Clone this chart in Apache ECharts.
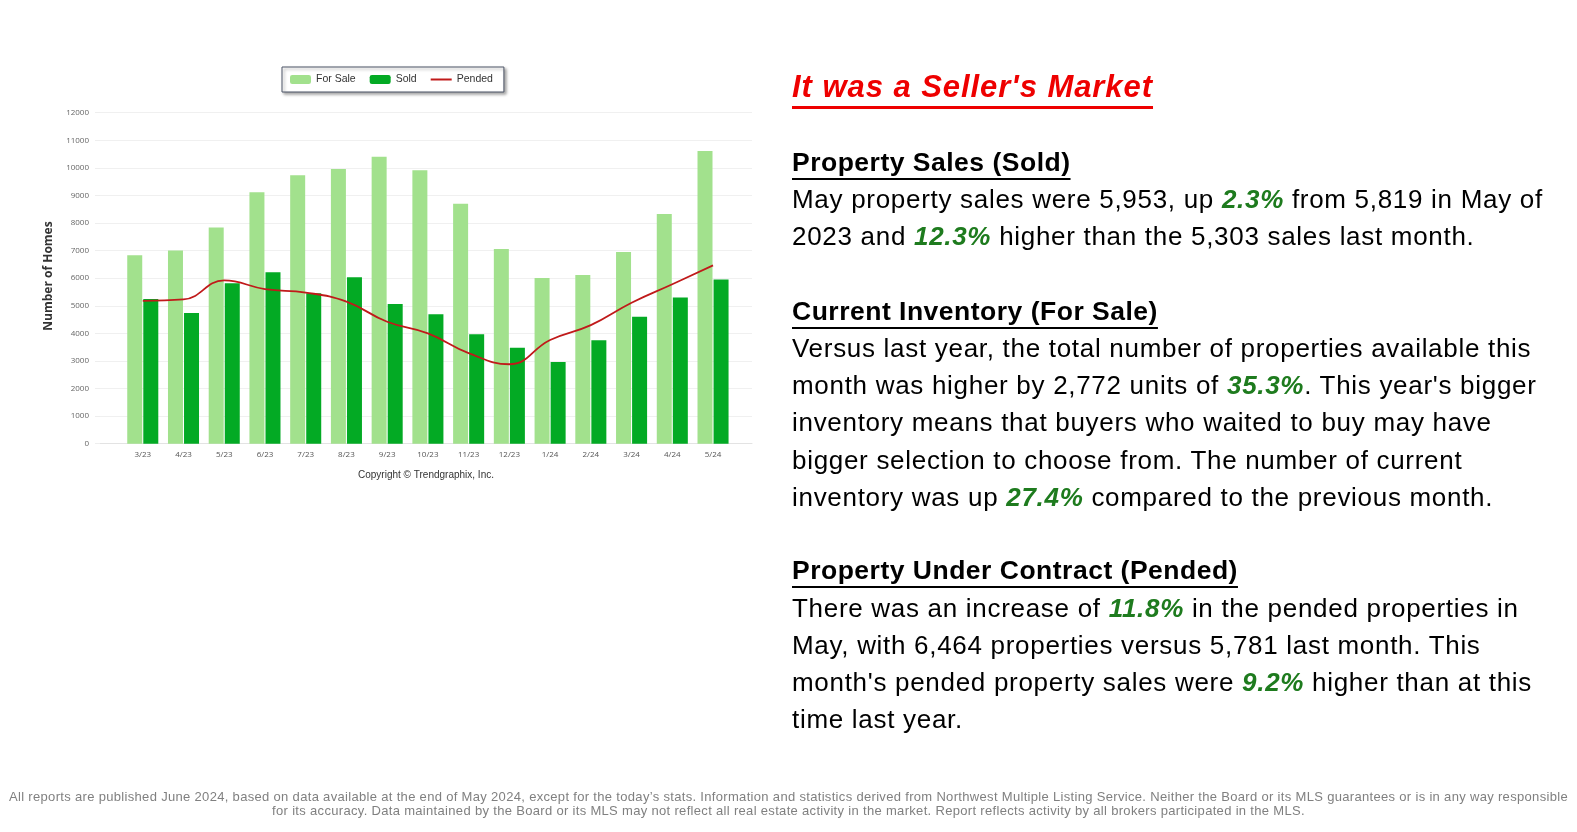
<!DOCTYPE html>
<html>
<head>
<meta charset="utf-8">
<script src="https://cdn.jsdelivr.net/npm/echarts@6/dist/echarts.min.js"></script>
<style>
  html, body { margin:0; padding:0; background:#fff; }
  #wrap { position:relative; width:1577px; height:832px; overflow:hidden; font-family:"Liberation Sans", Arial, sans-serif; }
  #chart { position:absolute; left:0; top:0; width:1577px; height:832px; }
  .txt { position:absolute; left:792px; white-space:nowrap; color:#000; }
  .title { font-size:31px; font-weight:bold; font-style:italic; color:#ee0000; letter-spacing:0.95px; text-decoration:underline; text-decoration-thickness:2.5px; text-underline-offset:9px; line-height:37px; }
  .head { font-size:26.5px; font-weight:bold; letter-spacing:0.5px; text-decoration:underline; text-decoration-thickness:2px; text-underline-offset:7px; line-height:37.2px; }
  .body { font-size:26px; letter-spacing:0.7px; line-height:37.2px; }
  .g { color:#1e7b1e; font-weight:bold; font-style:italic; }
  #foot { position:absolute; left:0; width:1577px; top:790px; text-align:center; font-size:13px; letter-spacing:0.32px; line-height:14px; color:#808080; }
</style>
</head>
<body>
<div id="wrap">
  <div id="chart"></div>
  <div class="txt title" style="top:68px;">It was a Seller's Market</div>
  <div class="txt head" style="top:144px;">Property Sales (Sold)</div>
  <div class="txt body" style="top:180.5px;">May property sales were 5,953, up <span class="g">2.3%</span> from 5,819 in May of<br>2023 and <span class="g">12.3%</span> higher than the 5,303 sales last month.</div>
  <div class="txt head" style="top:293px;">Current Inventory (For Sale)</div>
  <div class="txt body" style="top:330px;">Versus last year, the total number of properties available this<br>month was higher by 2,772 units of <span class="g">35.3%</span>. This year's bigger<br>inventory means that buyers who waited to buy may have<br>bigger selection to choose from. The number of current<br>inventory was up <span class="g">27.4%</span> compared to the previous month.</div>
  <div class="txt head" style="top:552px;">Property Under Contract (Pended)</div>
  <div class="txt body" style="top:589.5px;">There was an increase of <span class="g">11.8%</span> in the pended properties in<br>May, with 6,464 properties versus 5,781 last month. This<br>month's pended property sales were <span class="g">9.2%</span> higher than at this<br>time last year.</div>
  <div id="foot">All reports are published June 2024, based on data available at the end of May 2024, except for the today’s stats. Information and statistics derived from Northwest Multiple Listing Service. Neither the Board or its MLS guarantees or is in any way responsible<br>for its accuracy. Data maintained by the Board or its MLS may not reflect all real estate activity in the market. Report reflects activity by all brokers participated in the MLS.</div>
</div>
<script>
const months = ['3/23','4/23','5/23','6/23','7/23','8/23','9/23','10/23','11/23','12/23','1/24','2/24','3/24','4/24','5/24'];
const forSale = [6830, 7000, 7840, 9115, 9730, 9960, 10405, 9915, 8700, 7060, 6010, 6115, 6950, 8330, 10610];
const sold = [5245, 4740, 5819, 6215, 5455, 6035, 5065, 4690, 3965, 3480, 2960, 3750, 4605, 5303, 5953];
const pended = [5180, 5230, 5919, 5605, 5480, 5150, 4420, 4000, 3285, 2880, 3760, 4300, 5110, 5781, 6464];
const yTicks = { min: 0, max: 12000, interval: 1000 };

const chart = echarts.init(document.getElementById('chart'), null, { renderer: 'canvas' });
const top0 = 112.7, h0 = 331;
chart.setOption({
  animation: false,
  backgroundColor: '#fff',
  textStyle: { fontFamily: '"Open Sans", "Liberation Sans", Arial, sans-serif' },
  legend: {
    left: 282, top: 67,
    padding: [7, 11, 7, 8],
    itemWidth: 21, itemHeight: 9, itemGap: 14,
    backgroundColor: '#fff',
    borderColor: '#4d5566', borderWidth: 1,
    shadowColor: 'rgba(0,0,0,0.35)', shadowBlur: 3, shadowOffsetX: 2, shadowOffsetY: 2,
    textStyle: { fontSize: 10.5, color: '#333', fontFamily: '"Liberation Sans", Arial, sans-serif' },
    data: [
      { name: 'For Sale' },
      { name: 'Sold' },
      { name: 'Pended', icon: 'path://M0,4L21,4L21,6L0,6Z' }
    ]
  },
  grid: [
    { left: 100, top: top0, width: 652, height: h0 },
    { left: 122.4, top: top0, width: 611, height: h0 }
  ],
  xAxis: [
    { type: 'value', gridIndex: 0, min: 0, max: 1, show: true,
      axisLine: { show: true, lineStyle: { color: '#e3e3e3' } },
      axisTick: { show: false }, axisLabel: { show: false }, splitLine: { show: false } },
    { type: 'category', gridIndex: 1, data: months, boundaryGap: true,
      axisLine: { show: false }, axisTick: { show: false },
      axisLabel: { fontSize: 8, color: '#555', margin: 7 } }
  ],
  yAxis: [
    { type: 'value', gridIndex: 0, min: yTicks.min, max: yTicks.max, interval: yTicks.interval,
      axisLine: { show: false },
      axisTick: { show: true, length: 5, lineStyle: { color: '#eeeeee' } },
      axisLabel: { fontSize: 8, color: '#666', margin: 11, formatter: function (v) { return String(v); } },
      splitLine: { lineStyle: { color: '#f0f0f0' } } },
    { type: 'value', gridIndex: 1, min: yTicks.min, max: yTicks.max, interval: yTicks.interval, show: false, splitLine: { show: false } }
  ],
  graphic: [
    { type: 'text', x: 48.5, y: 276, rotation: Math.PI / 2,
      style: { text: 'Number of Homes', textAlign: 'center', textVerticalAlign: 'middle',
               font: 'bold 12px "Open Sans", "Liberation Sans", sans-serif', fill: '#333' } },
    { type: 'text', x: 426, y: 475,
      style: { text: 'Copyright © Trendgraphix, Inc.', textAlign: 'center', textVerticalAlign: 'middle',
               font: '10px "Liberation Sans", Arial, sans-serif', fill: '#333' } }
  ],
  series: [
    { name: 'For Sale', type: 'bar', xAxisIndex: 1, yAxisIndex: 1, data: forSale,
      barWidth: 15, barGap: '7%', itemStyle: { color: '#a2e18d' } },
    { name: 'Sold', type: 'bar', xAxisIndex: 1, yAxisIndex: 1, data: sold,
      barWidth: 15, barGap: '7%', itemStyle: { color: '#03aa24' } },
    { name: 'Pended', type: 'line', xAxisIndex: 1, yAxisIndex: 1, data: pended,
      smooth: 0.45, symbol: 'none', showSymbol: false,
      lineStyle: { color: '#c01a1a', width: 1.8 }, itemStyle: { color: '#c01a1a' }, z: 5 }
  ]
});
</script>
</body>
</html>
